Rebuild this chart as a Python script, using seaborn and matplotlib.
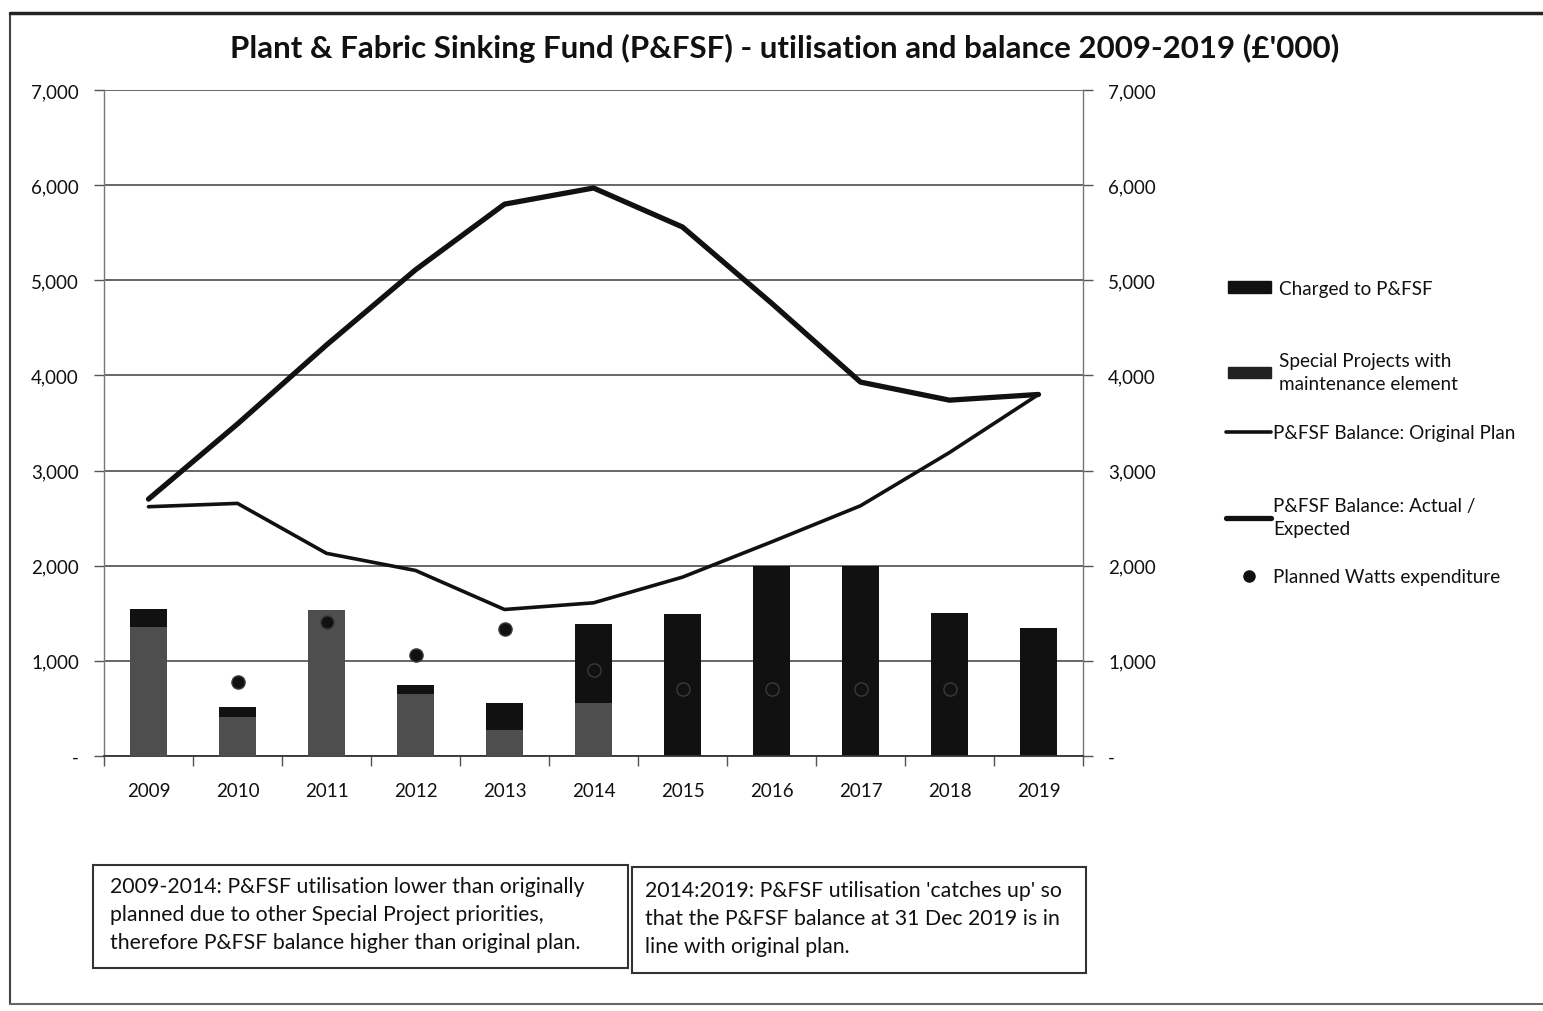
import numpy as np
import pandas as pd
import matplotlib
matplotlib.use("Agg")
import matplotlib.pyplot as plt
from matplotlib.patches import Patch, Rectangle
from matplotlib.lines import Line2D
from matplotlib.ticker import FixedLocator, FuncFormatter
import seaborn as sns

# ---- data (£'000) ----
years = ["2009", "2010", "2011", "2012", "2013", "2014",
         "2015", "2016", "2017", "2018", "2019"]
special_projects = [1360, 410, 1530, 650, 275, 555, 0, 0, 0, 0, 0]
charged_pfsf = [180, 100, 0, 95, 280, 830, 1490, 2000, 2000, 1500, 1350]
balance_original = [2620, 2655, 2130, 1950, 1540, 1610, 1880, 2250, 2630, 3190, 3800]
balance_actual = [2700, 3490, 4320, 5110, 5800, 5970, 5560, 4760, 3930, 3740, 3800]
planned_watts = [np.nan, 780, 1410, 1060, 1340, 900, 700, 700, 700, 700, np.nan]

sns.set_theme(style="white")
plt.rcParams["font.family"] = ["Lato", "DejaVu Sans"]

W, H = 1543, 1012
fig = plt.figure(figsize=(W / 100, H / 100), dpi=100)
fig.patch.set_facecolor("white")


def fx(px):
    return px / W


def fy(py):
    return 1 - py / H


ax = fig.add_axes([fx(104), fy(757), fx(1083) - fx(104), fy(91) - fy(757)])

df = pd.DataFrame({
    "year": years,
    "total": np.array(special_projects) + np.array(charged_pfsf),
    "special": special_projects,
})
idx = np.arange(len(years))

BLACK = "#111111"
GREY = "#4e4e4e"
TXT = "#111111"

# stacked columns: full height in black, special-project share overlaid in grey
sns.barplot(data=df, x="year", y="total", color=BLACK, width=0.42,
            saturation=1, linewidth=0, ax=ax, zorder=2)
sns.barplot(data=df, x="year", y="special", color=GREY, width=0.42,
            saturation=1, linewidth=0, ax=ax, zorder=3)

# balance lines
sns.lineplot(x=idx, y=balance_original, color=BLACK, lw=2.6, sort=False,
             estimator=None, ax=ax, zorder=4)
sns.lineplot(x=idx, y=balance_actual, color=BLACK, lw=3.8, sort=False,
             estimator=None, ax=ax, zorder=4)

# planned Watts expenditure
sns.scatterplot(x=idx, y=planned_watts, color=BLACK, s=90, edgecolor="#3a3a3a",
                linewidth=1.0, ax=ax, zorder=5)

# axes styling
ax.set_xlim(-0.5, len(years) - 0.5)
ax.set_ylim(0, 7000)
ax.set_xlabel("")
ax.set_ylabel("")
yt = np.arange(0, 7001, 1000)
ax.yaxis.set_major_locator(FixedLocator(yt))
ax.yaxis.set_major_formatter(FuncFormatter(lambda v, p: "-" if v == 0 else f"{int(v):,}"))
ax.grid(axis="y", color="#5a5a5a", lw=1.3, zorder=0)
ax.set_axisbelow(True)
for side in ("left", "right"):
    ax.spines[side].set_visible(True)
    ax.spines[side].set_color("#777777")
    ax.spines[side].set_linewidth(1.0)
ax.spines["top"].set_visible(False)
ax.spines["bottom"].set_color("#333333")
ax.spines["bottom"].set_linewidth(1.3)

ax.tick_params(axis="y", which="major", left=True, right=True,
               labelleft=True, labelright=True, length=7, width=1.0,
               color="#555555", labelsize=13.5, pad=11, labelcolor=TXT)

ax.set_xticks(idx)
ax.set_xticks(np.arange(-0.5, len(years)), minor=True)
ax.tick_params(axis="x", which="major", length=0, labelsize=13.5, pad=19,
               labelcolor=TXT)
ax.tick_params(axis="x", which="minor", bottom=True, length=7, width=1.0,
               color="#555555")

# title
fig.text(fx(785), fy(48), "Plant & Fabric Sinking Fund (P&FSF) - utilisation and "
         "balance 2009-2019 (£'000)", ha="center", va="center",
         fontsize=22.5, fontweight="bold", color=TXT)

# legend, one entry at a time
FS = 13.6
entries = [
    (Patch(facecolor=BLACK, edgecolor=BLACK), "Charged to P&FSF", 1228, 289, 2.3, 0.4),
    (Patch(facecolor="#222222", edgecolor="#222222"),
     "Special Projects with\nmaintenance element", 1228, 373, 2.3, 0.4),
    (Line2D([], [], color=BLACK, lw=2.6), "P&FSF Balance: Original Plan", 1226, 434, 2.4, 0.1),
    (Line2D([], [], color=BLACK, lw=3.8), "P&FSF Balance: Actual /\nExpected", 1226, 518, 2.4, 0.1),
    (Line2D([], [], color=BLACK, marker="o", ls="none", markersize=8),
     "Planned Watts expenditure", 1226, 578, 2.4, 0.1),
]
for h, lab, x0, y0, hl, tp in entries:
    leg = fig.legend(handles=[h], labels=[lab], loc="center left",
                     bbox_to_anchor=(fx(x0), fy(y0)), frameon=False, fontsize=FS,
                     handlelength=hl, handleheight=0.55, handletextpad=tp,
                     borderpad=0, borderaxespad=0, labelcolor=TXT)
    for t in leg.get_texts():
        t.set_linespacing(1.45)

# commentary boxes under the chart
fig.patches.append(Rectangle((fx(93), fy(969)), fx(628) - fx(93), fy(866) - fy(969),
                             transform=fig.transFigure, fill=False,
                             edgecolor="#333333", lw=1.5))
fig.patches.append(Rectangle((fx(632), fy(974)), fx(1086) - fx(632), fy(868) - fy(974),
                             transform=fig.transFigure, fill=False,
                             edgecolor="#333333", lw=1.5))
fig.text(fx(110), fy(877), "2009-2014: P&FSF utilisation lower than originally\n"
         "planned due to other Special Project priorities,\n"
         "therefore P&FSF balance higher than original plan.",
         ha="left", va="top", fontsize=15.3, linespacing=1.5, color=TXT)
fig.text(fx(645), fy(881), "2014:2019: P&FSF utilisation 'catches up' so\n"
         "that the P&FSF balance at 31 Dec 2019 is in\n"
         "line with original plan.",
         ha="left", va="top", fontsize=15.3, linespacing=1.5, color=TXT)

# outer frame of the chart area
fig.lines.append(Line2D([fx(10), fx(10)], [fy(14), fy(1005)], transform=fig.transFigure,
                        color="#444444", lw=1.5))
fig.lines.append(Line2D([fx(10), fx(1543)], [fy(14), fy(14)], transform=fig.transFigure,
                        color="#222222", lw=2.5))
fig.lines.append(Line2D([fx(10), fx(1543)], [fy(1005), fy(1005)], transform=fig.transFigure,
                        color="#666666", lw=1.5))

fig.savefig("out.png", dpi=100)
